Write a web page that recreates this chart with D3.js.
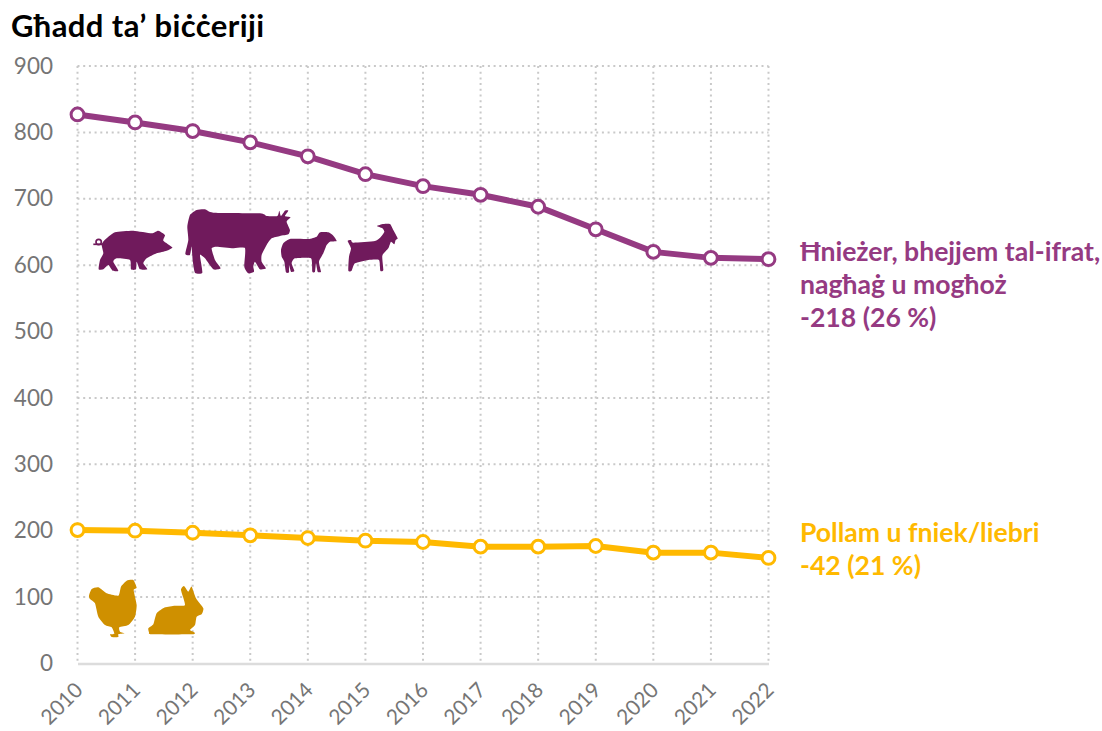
<!DOCTYPE html>
<html><head><meta charset="utf-8">
<script src="https://cdn.jsdelivr.net/npm/d3@7/dist/d3.min.js"></script>
<style>html,body{margin:0;background:#fff}svg{display:block}text{font-family:Lato,"Open Sans",sans-serif}</style>
</head><body><svg id="c" width="1102" height="731"></svg>
<script>
const years=[2010,2011,2012,2013,2014,2015,2016,2017,2018,2019,2020,2021,2022];
const livestock=[827,815,802,785,764,737,719,706,688,654,620,611,609];
const poultry=[201,200,197,193,189,185,183,176,176,177,167,167,159];
const yTicks=[0,100,200,300,400,500,600,700,800,900];
const title="Għadd ta’ biċċeriji";
const livestockLabel=["Ħnieżer, bhejjem tal-ifrat,","nagħaġ u mogħoż","-218 (26 %)"];
const poultryLabel=["Pollam u fniek/liebri","-42 (21 %)"];
// silhouettes, traced at 3x
const pig=[[296,808],[300,780],[310,760],[305,735],[312,722],[345,697],[400,692],[455,700],[475,692],[495,705],[490,722],[517,742],[500,752],[470,760],[440,775],[430,790],[442,808],[420,808],[410,785],[408,808],[393,808],[390,780],[350,775],[340,785],[355,812],[338,812],[325,795],[310,808]];
const cow=[[556,762],[565,720],[562,680],[570,645],[590,630],[615,628],[640,638],[780,640],[800,648],[832,648],[838,632],[843,648],[855,632],[865,632],[855,648],[872,652],[860,665],[870,690],[865,703],[840,708],[815,715],[800,735],[785,765],[785,785],[798,805],[780,808],[765,785],[760,800],[762,815],[745,820],[733,800],[735,745],[700,745],[650,740],[635,745],[645,780],[662,805],[640,808],[615,775],[600,765],[607,818],[585,818],[578,780],[575,740],[570,765]];
const sheep=[[18,105],[25,85],[45,72],[100,72],[125,65],[135,52],[160,52],[175,62],[185,78],[165,80],[155,90],[145,115],[132,140],[138,170],[128,170],[123,145],[120,170],[112,170],[108,130],[60,130],[50,145],[58,168],[48,170],[42,150],[42,172],[33,172],[28,140],[20,125]];
const goat=[[218,78],[228,75],[235,83],[300,78],[318,65],[328,50],[322,40],[306,33],[325,27],[345,27],[355,45],[368,70],[362,75],[358,88],[348,80],[340,100],[322,122],[325,165],[316,167],[312,135],[280,135],[240,145],[230,167],[220,167],[222,125],[228,100]];
const chicken=[[12,62],[20,42],[40,37],[65,55],[100,62],[108,35],[125,17],[145,15],[155,38],[146,45],[155,90],[150,125],[130,150],[103,157],[105,170],[120,175],[100,178],[100,186],[80,186],[75,178],[88,176],[80,157],[60,150],[40,125],[30,85],[15,72]];
const rabbit=[[190,160],[205,148],[215,115],[240,97],[270,92],[300,90],[288,45],[297,33],[310,50],[320,35],[333,70],[355,100],[350,118],[335,125],[330,150],[315,165],[328,172],[322,178],[200,178],[192,172]];

const svg=d3.select("#c");
const x=d3.scalePoint().domain(years).range([77.5,768.5]);
const y=d3.scaleLinear().domain([0,900]).range([663.5,66]);
const grey="#757575";
const grid=svg.append("g").attr("fill","none").attr("stroke","#c9c9c9").attr("stroke-width",2).attr("stroke-dasharray","2 3.7");
grid.selectAll(".h").data(yTicks.filter(d=>d>0)).join("line").attr("x1",x(2010)).attr("x2",x(2022)).attr("y1",y).attr("y2",y);
grid.selectAll(".v").data(years).join("line").attr("x1",d=>x(d)).attr("x2",d=>x(d)).attr("y1",y(900)).attr("y2",y(0));

const ax=svg.append("g").attr("transform",`translate(0,${y(0)})`).call(d3.axisBottom(x).tickSize(0).tickFormat(d3.format("d")));
ax.select(".domain").attr("stroke","#dcdcdc").attr("stroke-width",2.5);
ax.selectAll("text").attr("font-size",21).attr("fill",grey).attr("text-anchor","end").attr("dy",0)
  .attr("transform","translate(6,28) rotate(-45)").attr("x",0).attr("y",0);
const ay=svg.append("g").attr("transform","translate(55,0)").call(d3.axisLeft(y).tickValues(yTicks).tickSize(0).tickPadding(0));
ay.select(".domain").remove();
ay.selectAll("text").attr("font-size",22.5).attr("fill",grey).attr("x",-2);

const line=d3.line().x((d,i)=>x(years[i])).y(d=>y(d));
[[livestock,"#953a82"],[poultry,"#ffb900"]].forEach(([s,c])=>{
  svg.append("path").attr("d",line(s)).attr("fill","none").attr("stroke",c).attr("stroke-width",6);
  svg.selectAll(null).data(s).join("circle").attr("cx",(d,i)=>x(years[i])).attr("cy",d=>y(d)).attr("r",6.4).attr("fill","#fff").attr("stroke",c).attr("stroke-width",3);
});

const shape=d3.line().curve(d3.curveCardinalClosed.tension(0.45));
const g1=svg.append("g").attr("transform","scale(0.3333)").attr("fill","#701a5c");
[pig,cow].forEach(p=>g1.append("path").attr("d",shape(p)));
g1.append("circle").attr("cx",296).attr("cy",726).attr("r",8).attr("fill","none").attr("stroke","#701a5c").attr("stroke-width",5);
g1.append("path").attr("d","M280 733 L310 733").attr("stroke","#701a5c").attr("stroke-width",5);
const g2=svg.append("g").attr("transform","translate(275,215) scale(0.3333)").attr("fill","#701a5c");
[sheep,goat].forEach(p=>g2.append("path").attr("d",shape(p)));
const g3=svg.append("g").attr("transform","translate(85,575) scale(0.3333)").attr("fill","#cf9000");
[chicken,rabbit].forEach(p=>g3.append("path").attr("d",shape(p)));

svg.append("text").attr("x",11).attr("y",37).attr("font-size",31).attr("letter-spacing",0.4).attr("font-weight",700).attr("fill","#000").text(title);
const lab=(lines,ys,c)=>svg.selectAll(null).data(lines).join("text").attr("x",800).attr("y",(d,i)=>ys[i]).attr("font-size",26.6).attr("font-weight",700).attr("fill",c).text(d=>d);
lab(livestockLabel,[261,294,327],"#953a82");
lab(poultryLabel,[542,575],"#ffb900");
</script></body></html>
